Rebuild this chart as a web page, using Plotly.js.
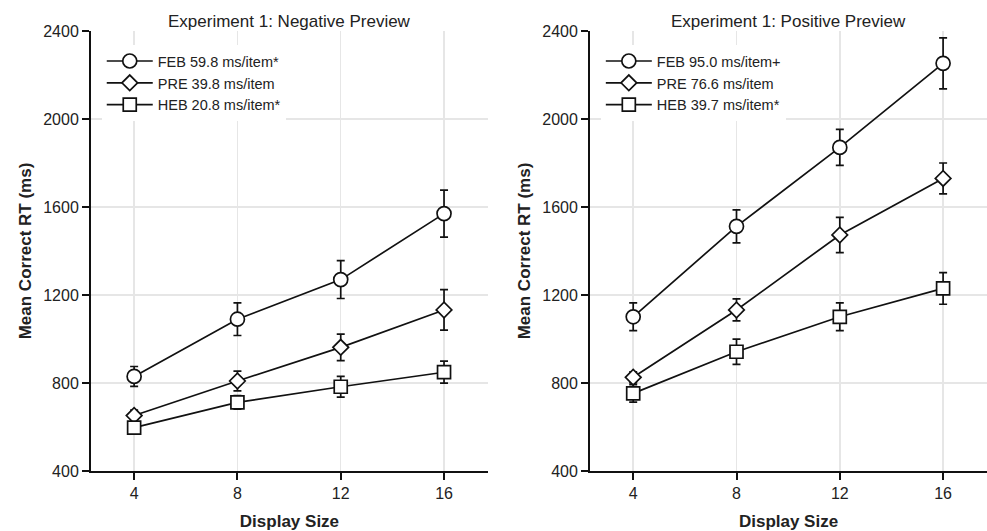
<!DOCTYPE html>
<html>
<head>
<meta charset="utf-8">
<script src="https://cdn.plot.ly/plotly-3.0.1.min.js"></script>
<style>html,body{margin:0;padding:0;background:#fff;}#chart{width:987px;height:531px;}</style>
</head>
<body>
<div id="chart"></div>
<script>
// Display sizes
const displaySize = [4, 8, 12, 16];

// Negative preview (left panel)
const negLabels = ["FEB 59.8 ms/item*", "PRE 39.8 ms/item", "HEB 20.8 ms/item*"];
const negFEB = [830, 1090, 1270, 1570];
const negFEBerr = [45, 74, 86, 107];
const negPRE = [652, 809, 962, 1132];
const negPREerr = [25, 45, 60, 92];
const negHEB = [597, 712, 783, 849];
const negHEBerr = [20, 31, 47, 50];

// Positive preview (right panel)
const posLabels = ["FEB 95.0 ms/item+", "PRE 76.6 ms/item", "HEB 39.7 ms/item*"];
const posFEB = [1101, 1512, 1871, 2253];
const posFEBerr = [63, 75, 82, 116];
const posPRE = [826, 1132, 1473, 1730];
const posPREerr = [25, 50, 80, 70];
const posHEB = [753, 942, 1101, 1230];
const posHEBerr = [40, 57, 63, 72];

const panelTitles = ["Experiment 1: Negative Preview", "Experiment 1: Positive Preview"];
const xTitle = "Display Size";
const yTitle = "Mean Correct RT (ms)";
const yTicks = [400, 800, 1200, 1600, 2000, 2400];

const FONT = "Liberation Sans, Arial, Helvetica, sans-serif";
const symbols = ["circle", "diamond", "square"];
const sizes = [14, 12, 13];

function mk(y, err, name, idx, xa, ya, leg) {
  return {
    x: displaySize, y: y, name: name, type: "scatter", mode: "lines+markers",
    xaxis: xa, yaxis: ya, legend: leg,
    line: {color: "#111", width: 1.7},
    marker: {symbol: symbols[idx], size: sizes[idx], color: "#fff", line: {color: "#111", width: 1.7}},
    error_y: {type: "data", array: err, visible: true, color: "#111", thickness: 1.7, width: 4},
    hoverinfo: "skip"
  };
}

const data = [
  mk(negFEB, negFEBerr, negLabels[0], 0, "x", "y", "legend"),
  mk(negPRE, negPREerr, negLabels[1], 1, "x", "y", "legend"),
  mk(negHEB, negHEBerr, negLabels[2], 2, "x", "y", "legend"),
  mk(posFEB, posFEBerr, posLabels[0], 0, "x2", "y2", "legend2"),
  mk(posPRE, posPREerr, posLabels[1], 1, "x2", "y2", "legend2"),
  mk(posHEB, posHEBerr, posLabels[2], 2, "x2", "y2", "legend2")
];

function xax(domain, anchor) {
  return {
    domain: domain, anchor: anchor, range: [2.33, 17.7],
    tickvals: displaySize, ticks: "outside", ticklen: 7, tickwidth: 2, tickcolor: "#111",
    showline: true, linecolor: "#111", linewidth: 2,
    showgrid: true, gridcolor: "#e6e6e6", gridwidth: 1.5, zeroline: false,
    tickfont: {family: FONT, size: 16, color: "#222"},
    title: {text: xTitle, font: {family: FONT, size: 17, color: "#222", weight: "bold"}, standoff: 15}
  };
}
function yax(anchor) {
  return {
    anchor: anchor, range: [400, 2400], tickvals: yTicks,
    ticks: "outside", ticklen: 7, tickwidth: 2, tickcolor: "#111",
    showline: true, linecolor: "#111", linewidth: 2,
    showgrid: true, gridcolor: "#e6e6e6", gridwidth: 1.5, zeroline: false,
    tickfont: {family: FONT, size: 16, color: "#222"},
    title: {text: yTitle, font: {family: FONT, size: 17, color: "#222", weight: "bold"}, standoff: 7}
  };
}

const legendStyle = (x) => ({
  x: x, y: 0.968, xanchor: "left", yanchor: "top", xref: "paper", yref: "paper",
  bgcolor: "#fff", borderwidth: 0, font: {family: FONT, size: 14.5, color: "#222"},
  tracegroupgap: 0, itemclick: false, itemwidth: 46
});

const layout = {
  width: 987, height: 531,
  margin: {l: 91, r: 0, t: 31, b: 60},
  paper_bgcolor: "#fff", plot_bgcolor: "#fff",
  font: {family: FONT, color: "#222"},
  showlegend: true,
  xaxis: xax([0, 0.443], "y"),
  yaxis: yax("x"),
  xaxis2: xax([0.557, 1], "y2"),
  yaxis2: yax("x2"),
  legend: legendStyle(0.012),
  legend2: legendStyle(0.569),
  annotations: [
    {text: panelTitles[0], xref: "x domain", yref: "paper", x: 0.5, y: 1, xanchor: "center", yanchor: "bottom", showarrow: false, yshift: -2, font: {family: FONT, size: 17, color: "#222"}},
    {text: panelTitles[1], xref: "x2 domain", yref: "paper", x: 0.5, y: 1, xanchor: "center", yanchor: "bottom", showarrow: false, yshift: -2, font: {family: FONT, size: 17, color: "#222"}}
  ]
};

Plotly.newPlot("chart", data, layout, {displayModeBar: false, staticPlot: true});
</script>
</body>
</html>
